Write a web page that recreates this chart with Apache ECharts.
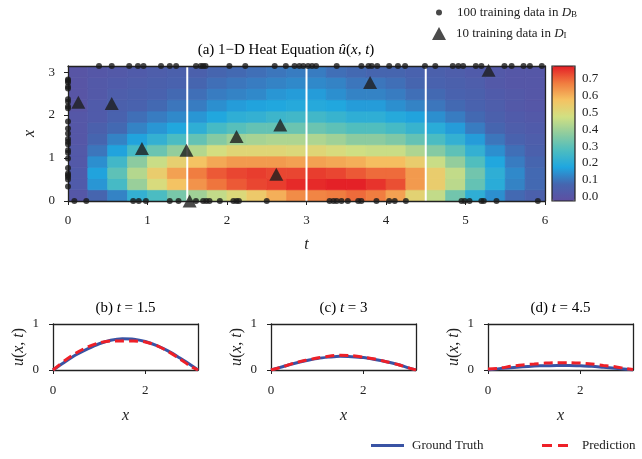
<!DOCTYPE html>
<html><head><meta charset="utf-8">
<script src="https://cdn.jsdelivr.net/npm/echarts@6/dist/echarts.min.js"></script>
<style>html,body{margin:0;padding:0;background:#fff}#c{width:642px;height:459px}</style>
</head><body><div id="c"></div>
<script>
// ---- data ----
const tCells = [0.125,0.375,0.625,0.875,1.125,1.375,1.625,1.875,2.125,2.375,2.625,2.875,3.125,3.375,3.625,3.875,4.125,4.375,4.625,4.875,5.125,5.375,5.625,5.875];
const xCells = [0.131,0.393,0.654,0.916,1.178,1.440,1.702,1.963,2.225,2.487,2.749,3.011];
// predicted field u_hat(x,t): one row per xCells entry, one value per tCells entry
const uHat = [
 [0.01,0.07,0.12,0.22,0.27,0.34,0.40,0.45,0.50,0.55,0.60,0.65,0.66,0.67,0.69,0.67,0.62,0.52,0.45,0.33,0.21,0.14,0.08,0.05],
 [0.03,0.15,0.26,0.39,0.49,0.57,0.64,0.68,0.71,0.73,0.74,0.76,0.76,0.77,0.77,0.75,0.72,0.63,0.54,0.44,0.31,0.20,0.12,0.08],
 [0.03,0.17,0.30,0.43,0.54,0.62,0.67,0.71,0.73,0.74,0.73,0.73,0.74,0.73,0.71,0.69,0.69,0.63,0.54,0.45,0.33,0.21,0.13,0.08],
 [0.02,0.14,0.25,0.37,0.46,0.53,0.57,0.61,0.63,0.63,0.63,0.62,0.62,0.61,0.60,0.58,0.58,0.54,0.46,0.38,0.28,0.18,0.11,0.07],
 [0.02,0.10,0.17,0.26,0.32,0.38,0.43,0.48,0.51,0.51,0.51,0.50,0.51,0.49,0.47,0.46,0.46,0.42,0.36,0.30,0.22,0.14,0.09,0.05],
 [0.01,0.07,0.12,0.17,0.22,0.27,0.31,0.36,0.40,0.41,0.42,0.42,0.42,0.40,0.37,0.37,0.35,0.31,0.27,0.22,0.16,0.10,0.06,0.04],
 [0.01,0.05,0.08,0.12,0.15,0.18,0.21,0.26,0.29,0.31,0.31,0.32,0.32,0.30,0.28,0.28,0.26,0.23,0.20,0.16,0.11,0.07,0.04,0.03],
 [0.01,0.03,0.06,0.09,0.11,0.13,0.15,0.18,0.21,0.22,0.24,0.25,0.25,0.23,0.21,0.21,0.19,0.17,0.14,0.11,0.08,0.05,0.03,0.02],
 [0.00,0.03,0.05,0.06,0.08,0.10,0.11,0.14,0.16,0.17,0.18,0.19,0.19,0.18,0.16,0.16,0.14,0.12,0.10,0.08,0.06,0.04,0.02,0.01],
 [0.00,0.02,0.04,0.05,0.06,0.08,0.09,0.11,0.12,0.13,0.15,0.16,0.16,0.14,0.12,0.12,0.11,0.09,0.08,0.06,0.05,0.03,0.02,0.01],
 [0.00,0.02,0.03,0.04,0.05,0.06,0.07,0.09,0.10,0.11,0.12,0.13,0.13,0.12,0.10,0.10,0.09,0.07,0.06,0.05,0.04,0.02,0.01,0.01],
 [0.00,0.01,0.02,0.03,0.04,0.05,0.05,0.07,0.08,0.09,0.10,0.11,0.11,0.09,0.08,0.07,0.07,0.06,0.05,0.04,0.03,0.02,0.01,0.01]
];
// boundary training points D_B
const bLeftX = [2.83,2.80,2.76,2.66,2.62,2.37,2.31,2.20,2.16,1.85,1.69,1.57,1.44,1.38,1.32,1.18,1.12,0.99,0.77,0.64,0.60,0.56,0.50,0.34];
const bTopT = [0.39,0.55,0.77,0.88,0.95,1.17,1.28,1.36,1.61,1.67,1.70,1.73,2.03,2.23,2.60,2.74,2.85,2.91,2.96,3.02,3.07,3.12,3.38,3.69,3.78,3.82,3.89,4.04,4.15,4.24,4.49,4.62,4.84,4.91,4.97,5.13,5.20,5.49,5.58,5.73,5.81,5.96];
const bBottomT = [0.08,0.23,0.82,0.89,0.98,1.28,1.39,1.61,1.70,1.74,1.78,1.91,2.08,2.12,2.15,2.50,3.29,3.34,3.38,3.44,3.52,3.65,3.69,3.88,4.04,4.11,4.25,4.95,4.99,5.05,5.20,5.23,5.39,5.91];
// interior training points D_I
const iT = [0.13,0.55,0.93,1.49,1.53,2.12,2.67,2.62,3.80,5.29];
const iX = [2.30,2.27,1.22,1.18,0.00,1.50,1.77,0.62,2.76,3.04];
const sliceT = [1.5, 3, 4.5];
// slices
const xs = [0,0.25,0.5,0.75,1.0,1.25,1.5,1.75,2.0,2.25,2.5,2.75,3.0,3.1416];
const gt15 = [0,0.17,0.33,0.46,0.57,0.645,0.678,0.67,0.62,0.53,0.41,0.26,0.10,0];
const pr15 = [0,0.20,0.37,0.50,0.59,0.63,0.63,0.63,0.61,0.53,0.40,0.24,0.07,0];
const gt3 = [0,0.07,0.14,0.20,0.25,0.28,0.30,0.29,0.27,0.23,0.18,0.12,0.04,0];
const pr3 = [0,0.07,0.15,0.21,0.26,0.30,0.32,0.31,0.28,0.24,0.18,0.12,0.04,0];
const gt45 = [0,0.03,0.05,0.07,0.085,0.095,0.10,0.10,0.09,0.08,0.06,0.04,0.015,0];
const pr45 = [0.02,0.04,0.08,0.11,0.13,0.15,0.16,0.16,0.15,0.13,0.10,0.07,0.03,0.01];
const mainYTicks = [0,1,2,3];
const sliceXTicks = [0,2];
const cbTicks = [0,0.1,0.2,0.3,0.4,0.5,0.6,0.7];

// ---- styling ----
const F = 'Liberation Serif';
const INK = '#222';
const richT = (fs) => ({
  n: {fontFamily:F, fontSize:fs, color:INK},
  i: {fontFamily:F, fontSize:fs, fontStyle:'italic', color:INK},
  s: {fontFamily:F, fontSize:Math.round(fs*0.7), color:INK, verticalAlign:'bottom', lineHeight:Math.round(fs*0.7)}
});
const lineAx = {show:true, onZero:false, lineStyle:{color:INK, width:1.3}};
const tickAx = {show:true, inside:false, length:4, lineStyle:{color:INK, width:1}};
const labAx = {fontFamily:F, fontSize:13, color:INK};

const dt = 0.125, dx = Math.PI/24;
const heatData = [];
xCells.forEach((xc, r) => tCells.forEach((tc, c) => heatData.push([tc-dt, tc+dt, xc-dx, xc+dx, uHat[r][c]])));

const dots = [].concat(bLeftX.map(x => [0, x]), bTopT.map(t => [t, Math.PI]), bBottomT.map(t => [t, 0]));
const tris = iT.map((t, k) => [t, iX[k]]);

const slices = [
  {left:53, label:'{n|(b) }{i|t}{n| = 1.5}', gt:gt15, pr:pr15},
  {left:271, label:'{n|(c) }{i|t}{n| = 3}', gt:gt3, pr:pr3},
  {left:488, label:'{n|(d) }{i|t}{n| = 4.5}', gt:gt45, pr:pr45}
];
const SW = 145, ST = 324, SH = 46;

const grid = [
  {left:68, top:66, width:477, height:135},
  {left:552, top:66, width:23, height:135, show:true, borderColor:INK, borderWidth:1.2, z:10}
];
const xAxis = [
  {gridIndex:0, type:'value', min:0, max:6, interval:1, position:'bottom', axisLine:lineAx, axisTick:tickAx,
   axisLabel:Object.assign({margin:13}, labAx), splitLine:{show:false}, z:3,
   name:'t', nameLocation:'middle', nameGap:36, nameTextStyle:{fontFamily:F, fontStyle:'italic', fontSize:16, color:INK}},
  {gridIndex:0, type:'value', min:0, max:6, position:'top', axisLine:lineAx, axisTick:{show:false}, axisLabel:{show:false}, splitLine:{show:false}, z:3},
  {gridIndex:1, type:'value', min:0, max:1, show:false}
];
const yAxis = [
  {gridIndex:0, type:'value', min:0, max:Math.PI, position:'left', axisLine:lineAx,
   axisTick:Object.assign({customValues:mainYTicks}, tickAx),
   axisLabel:Object.assign({margin:13, customValues:mainYTicks}, labAx), splitLine:{show:false}, z:3,
   name:'x', nameLocation:'middle', nameGap:27, nameTextStyle:{fontFamily:F, fontStyle:'italic', fontSize:16, color:INK}},
  {gridIndex:0, type:'value', min:0, max:Math.PI, position:'right', axisLine:lineAx, axisTick:{show:false}, axisLabel:{show:false}, splitLine:{show:false}, z:3},
  {gridIndex:1, type:'value', min:-0.024, max:0.773, position:'right', axisLine:{show:false},
   axisTick:Object.assign({customValues:cbTicks}, tickAx),
   axisLabel:Object.assign({margin:7, customValues:cbTicks, formatter:v => Number(v).toFixed(1)}, labAx), splitLine:{show:false}}
];
const series = [
  {type:'custom', name:'uhat', xAxisIndex:0, yAxisIndex:0, z:1, clip:true, data:heatData,
   encode:{x:[0,1], y:[2,3]},
   renderItem:(p, api) => {
     const a = api.coord([api.value(0), api.value(3)]);
     const b = api.coord([api.value(1), api.value(2)]);
     const col = api.visual('color');
     return {type:'rect', shape:{x:a[0], y:a[1], width:b[0]-a[0], height:b[1]-a[1]}, style:{fill:col, stroke:col, lineWidth:0.8}};
   }},
  {type:'custom', name:'slices', xAxisIndex:0, yAxisIndex:0, z:2, data:sliceT.map(t => [t]), encode:{x:0},
   renderItem:(p, api) => {
     const a = api.coord([api.value(0), 0]);
     const b = api.coord([api.value(0), Math.PI]);
     return {type:'line', shape:{x1:a[0], y1:a[1], x2:b[0], y2:b[1]}, style:{stroke:'#fff', lineWidth:2}};
   }},
  {type:'scatter', name:'DB', xAxisIndex:0, yAxisIndex:0, z:5, symbol:'circle', symbolSize:6, clip:false,
   itemStyle:{color:'#1a1a1a'}, data:dots},
  {type:'scatter', name:'DI', xAxisIndex:0, yAxisIndex:0, z:6, symbol:'triangle', symbolSize:[14,13], clip:false,
   itemStyle:{color:'#1e1e1e'}, data:tris}
];
const graphic = [
  {type:'text', style:{text:'{n|(a) 1\u2212D Heat Equation }{i|\u00fb}{n|(}{i|x}{n|, }{i|t}{n|)}', rich:richT(15), x:286, y:50, align:'center', verticalAlign:'middle'}}
];
slices.forEach((s, k) => {
  const gi = 2 + k;
  grid.push({left:s.left, top:ST, width:SW, height:SH});
  xAxis.push({gridIndex:gi, type:'value', min:0, max:Math.PI, position:'bottom', axisLine:lineAx,
    axisTick:Object.assign({customValues:sliceXTicks}, tickAx),
    axisLabel:Object.assign({margin:14, customValues:sliceXTicks}, labAx), splitLine:{show:false}, z:3,
    name:'x', nameLocation:'middle', nameGap:38, nameTextStyle:{fontFamily:F, fontStyle:'italic', fontSize:16, color:INK}});
  const xi = xAxis.length - 1;
  xAxis.push({gridIndex:gi, type:'value', min:0, max:Math.PI, position:'top', axisLine:lineAx, axisTick:{show:false}, axisLabel:{show:false}, splitLine:{show:false}, z:3});
  yAxis.push({gridIndex:gi, type:'value', min:0, max:1, interval:1, position:'left', axisLine:lineAx, axisTick:tickAx,
    axisLabel:Object.assign({margin:14}, labAx), splitLine:{show:false}, z:3,
    name:'{i|u}{n|(}{i|x}{n|, }{i|t}{n|)}', nameLocation:'middle', nameGap:26, nameTextStyle:{rich:richT(16)}});
  const yi = yAxis.length - 1;
  yAxis.push({gridIndex:gi, type:'value', min:0, max:1, position:'right', axisLine:lineAx, axisTick:{show:false}, axisLabel:{show:false}, splitLine:{show:false}, z:3});
  series.push({type:'line', name:'Ground Truth', xAxisIndex:xi, yAxisIndex:yi, symbol:'none', smooth:0.3, z:4,
    lineStyle:{color:'#3953a4', width:3}, itemStyle:{color:'#3953a4'}, data:xs.map((x, j) => [x, s.gt[j]])});
  series.push({type:'line', name:'Prediction', xAxisIndex:xi, yAxisIndex:yi, symbol:'none', smooth:0.3, z:5,
    lineStyle:{color:'#ee2028', width:3, type:[9,5]}, itemStyle:{color:'#ee2028'}, data:xs.map((x, j) => [x, s.pr[j]])});
  graphic.push({type:'text', style:{text:s.label, rich:richT(15), x:s.left + SW/2, y:308, align:'center', verticalAlign:'middle'}});
});

const legTxt = {fontFamily:F, fontSize:13, color:INK};
const option = {
  animation:false,
  backgroundColor:'#fff',
  grid, xAxis, yAxis, series, graphic,
  visualMap:{type:'continuous', min:-0.024, max:0.773, dimension:4, seriesIndex:0, show:true, calculable:false,
    orient:'vertical', left:552, top:66, itemWidth:23, itemHeight:135, padding:0, text:null, hoverLink:false,
    inRange:{color:['#5e4fa2','#4566b0','#1fa6e0','#4dbdc0','#8fcc9e','#d2e082','#f5c262','#f07b3f','#e41e26']}},
  legend:[
    {data:[{name:'DB', icon:'circle'}], left:436, top:6, padding:0, itemWidth:6, itemHeight:6, selectedMode:false,
     formatter:() => '{n|100 training data in }{i|D}{s|B}', textStyle:Object.assign({rich:richT(13), padding:[0,0,0,10]}, legTxt)},
    {data:[{name:'DI', icon:'triangle'}], left:432, top:27, padding:0, itemWidth:14, itemHeight:13, selectedMode:false,
     formatter:() => '{n|10 training data in }{i|D}{s|I}', textStyle:Object.assign({rich:richT(13), padding:[0,0,0,5]}, legTxt)},
    {data:[{name:'Ground Truth', icon:'path://M0,0H33V3H0Z'}], left:371, top:439, padding:0, itemWidth:33, itemHeight:3, selectedMode:false,
     itemStyle:{color:'#3953a4'}, textStyle:Object.assign({padding:[0,0,0,3]}, legTxt)},
    {data:[{name:'Prediction', icon:'path://M0,0H10V3H0ZM16,0H26V3H16Z'}], left:542, top:439, padding:0, itemWidth:26, itemHeight:3, selectedMode:false,
     itemStyle:{color:'#ee2028'}, textStyle:Object.assign({padding:[0,0,0,9]}, legTxt)}
  ]
};
const chart = echarts.init(document.getElementById('c'), null, {renderer:'canvas', width:642, height:459});
chart.setOption(option);
</script></body></html>
